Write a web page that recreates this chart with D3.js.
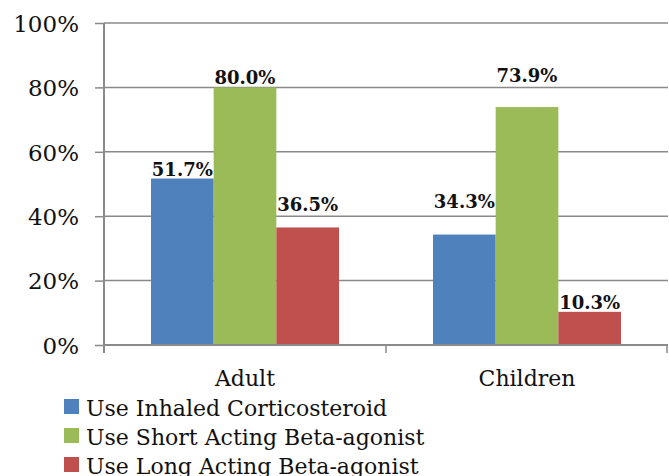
<!DOCTYPE html>
<html>
<head>
<meta charset="utf-8">
<script src="https://cdn.jsdelivr.net/npm/d3@7"></script>
<style>
  body { margin: 0; background: #fff; }
  svg { display: block; }
</style>
</head>
<body>
<script>
// chart data
var groups = ["Adult", "Children"];
var seriesNames = ["Use Inhaled Corticosteroid", "Use Short Acting Beta-agonist", "Use Long Acting Beta-agonist"];
var adultValues = [0.517, 0.800, 0.365];
var childValues = [0.343, 0.739, 0.103];
var yTicks = [0, 0.2, 0.4, 0.6, 0.8, 1.0];

var colors = ["#4F81BD", "#9BBB59", "#C0504D"];

var totalWidth = 669,
	totalHeight = 476,
	margin = {top: 23, right: 1, bottom: 131, left: 104},
	dataWidth = totalWidth - margin.left - margin.right,
	dataHeight = totalHeight - margin.top - margin.bottom;

var rows = groups.map((g, i) => ({group: g, values: i == 0 ? adultValues : childValues}));

var svg = d3.select("body").append("svg")
	.attr("width", totalWidth)
	.attr("height", totalHeight);

var plot = svg.append("g")
	.attr("transform", "translate(" + margin.left + "," + margin.top + ")");

var yScale = d3.scaleLinear().domain([0, 1]).range([dataHeight, 0]);
var xScale = d3.scaleBand().domain(groups).range([0, dataWidth]);
// excel style gap width 150%
var xInner = d3.scaleBand().domain(d3.range(seriesNames.length))
	.range([0, xScale.bandwidth()]).paddingOuter(0.75).paddingInner(0);

// gridlines
plot.append("g")
	.selectAll("line")
	.data(yTicks.filter(t => t > 0))
	.enter().append("line")
	.attr("x1", 0).attr("x2", dataWidth)
	.attr("y1", d => yScale(d)).attr("y2", d => yScale(d))
	.style("stroke", "#8a8a8a")
	.style("stroke-width", 1.5);

// bars
var bars = plot.append("g")
	.selectAll("g")
	.data(rows)
	.enter().append("g")
	.attr("transform", d => "translate(" + xScale(d.group) + ",0)");

bars.selectAll("rect")
	.data(d => d.values)
	.enter().append("rect")
	.attr("x", (v, i) => xInner(i))
	.attr("width", xInner.bandwidth())
	.attr("y", v => yScale(v))
	.attr("height", v => dataHeight - yScale(v))
	.style("fill", (v, i) => colors[i]);

// labels (a few were dragged up in the original)
var labelNudge = [[0, 0, 13], [24, 22, 0]];
bars.selectAll("text")
	.data((d, gi) => d.values.map((v, i) => ({v: v, i: i, gi: gi})))
	.enter().append("text")
	.attr("x", d => xInner(d.i) + xInner.bandwidth() / 2)
	.attr("y", d => yScale(d.v) - 3 - labelNudge[d.gi][d.i])
	.attr("text-anchor", "middle")
	.style("font-family", "DejaVu Serif")
	.style("font-weight", "bold")
	.style("font-size", "18px")
	.style("fill", "#111")
	.text(d => d3.format(".1%")(d.v));

// y axis
var yAxis = d3.axisLeft(yScale)
	.tickValues(yTicks)
	.tickSize(9)
	.tickPadding(16)
	.tickFormat(d3.format(".0%"));

var yg = plot.append("g").call(yAxis);
yg.select(".domain").remove();
yg.selectAll(".tick line").style("stroke", "#8a8a8a").style("stroke-width", 1.5);
yg.selectAll(".tick text")
	.style("font-family", "DejaVu Serif")
	.style("font-size", "23px")
	.style("fill", "#111")
	.attr("dy", "0.36em");

plot.append("line")
	.attr("x1", 0).attr("x2", 0)
	.attr("y1", 0).attr("y2", dataHeight + 8)
	.style("stroke", "#8a8a8a").style("stroke-width", 2);

// x axis
plot.append("line")
	.attr("x1", 0).attr("x2", dataWidth)
	.attr("y1", dataHeight).attr("y2", dataHeight)
	.style("stroke", "#8a8a8a").style("stroke-width", 2);

plot.append("g")
	.selectAll("line")
	.data(groups.slice(1).concat(["end"]))
	.enter().append("line")
	.attr("x1", d => d == "end" ? dataWidth - 1 : xScale(d))
	.attr("x2", d => d == "end" ? dataWidth - 1 : xScale(d))
	.attr("y1", dataHeight).attr("y2", dataHeight + 8)
	.style("stroke", "#8a8a8a").style("stroke-width", 1.5);

plot.append("g")
	.selectAll("text")
	.data(groups)
	.enter().append("text")
	.attr("x", d => xScale(d) + xScale.bandwidth() / 2)
	.attr("y", dataHeight + 41)
	.attr("text-anchor", "middle")
	.style("font-family", "DejaVu Serif")
	.style("font-size", "22px")
	.style("fill", "#111")
	.text(d => d);

// legend
var legend = svg.append("g")
	.attr("transform", "translate(64,399)")
	.selectAll("g")
	.data(seriesNames)
	.enter().append("g")
	.attr("transform", (d, i) => "translate(0," + i * 29 + ")");

legend.append("rect")
	.attr("width", 15).attr("height", 15)
	.style("fill", (d, i) => colors[i]);

legend.append("text")
	.attr("x", 22)
	.attr("y", 17)
	.style("font-family", "DejaVu Serif")
	.style("font-size", "22px")
	.style("fill", "#111")
	.text(d => d);
</script>
</body>
</html>
